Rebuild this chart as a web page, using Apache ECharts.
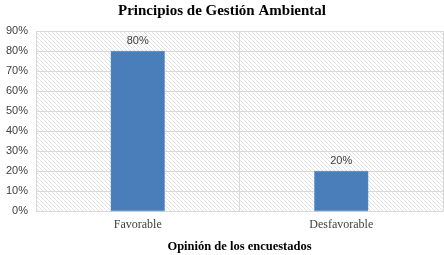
<!DOCTYPE html>
<html>
<head>
<meta charset="utf-8">
<script src="https://cdn.jsdelivr.net/npm/echarts@6/dist/echarts.min.js"></script>
<style>
  html, body { margin: 0; padding: 0; background: #fff; }
  #chart { width: 444px; height: 255px; }
</style>
</head>
<body>
<div id="chart"></div>
<script>
var categories = ['Favorable', 'Desfavorable'];
var values = [0.8, 0.2];
var yTicks = [0, 0.1, 0.2, 0.3, 0.4, 0.5, 0.6, 0.7, 0.8, 0.9];

// diagonal hatch for the plot background
var hatch = document.createElement('canvas');
hatch.width = 4;
hatch.height = 4;
var ctx = hatch.getContext('2d');
ctx.fillStyle = '#ffffff';
ctx.fillRect(0, 0, 4, 4);
ctx.fillStyle = '#e2e2e2';
for (var x = 0; x < 4; x++) {
  for (var y = 0; y < 4; y++) {
    if (((x - y) % 4 + 4) % 4 === 0) ctx.fillRect(x, y, 1, 1);
  }
}

var chart = echarts.init(document.getElementById('chart'));
chart.setOption({
  animation: false,
  title: {
    text: 'Principios de Gestión Ambiental',
    left: 'center',
    top: -1,
    textStyle: {
      fontFamily: 'Liberation Serif',
      fontWeight: 'bold',
      fontSize: 15,
      color: '#000'
    }
  },
  grid: {
    left: 36,
    right: 1,
    top: 31,
    bottom: 44,
    outerBoundsMode: 'none',
    containLabel: false,
    show: true,
    borderWidth: 0,
    backgroundColor: { image: hatch, repeat: 'repeat' }
  },
  xAxis: {
    type: 'category',
    data: categories,
    name: 'Opinión de los encuestados',
    nameLocation: 'middle',
    nameGap: 29,
    nameTextStyle: {
      fontFamily: 'Liberation Serif',
      fontWeight: 'bold',
      fontSize: 12.5,
      color: '#000'
    },
    axisLine: { lineStyle: { color: '#d9d9d9' } },
    axisTick: { show: false },
    axisLabel: {
      margin: 8,
      fontFamily: 'Liberation Serif',
      fontSize: 12,
      color: '#404040'
    },
    splitLine: { show: true, lineStyle: { color: '#d9d9d9' } }
  },
  yAxis: {
    type: 'value',
    min: yTicks[0],
    max: yTicks[yTicks.length - 1],
    interval: 0.1,
    axisLine: { show: false },
    axisTick: { show: false },
    axisLabel: {
      margin: 8,
      fontFamily: 'Liberation Sans',
      fontSize: 11,
      color: '#404040',
      formatter: function (v) { return Math.round(v * 100) + '%'; }
    },
    splitLine: { lineStyle: { color: '#d9d9d9' } }
  },
  series: [{
    type: 'bar',
    data: values,
    barWidth: 54,
    itemStyle: { color: '#4a7ebb', borderColor: '#5b8cc6', borderWidth: 0.5 },
    label: {
      show: true,
      position: 'top',
      distance: 5,
      fontFamily: 'Liberation Sans',
      fontSize: 11,
      color: '#404040',
      formatter: function (p) { return Math.round(p.value * 100) + '%'; }
    }
  }]
});
</script>
</body>
</html>
